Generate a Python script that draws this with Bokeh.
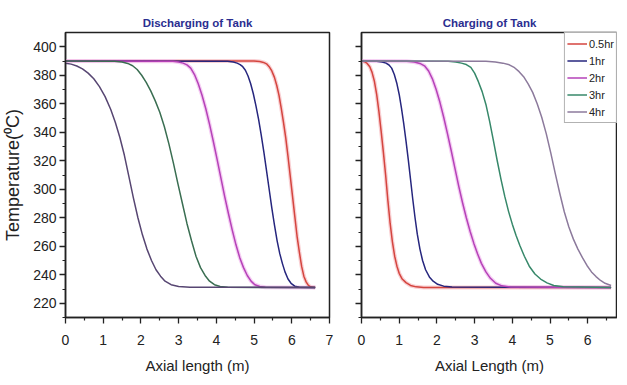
from bokeh.plotting import figure
from bokeh.layouts import row
from bokeh.models import FixedTicker, Range1d
from bokeh.embed import file_html
from bokeh.resources import INLINE

series_names = ["0.5hr", "1hr", "2hr", "3hr", "4hr"]

# Discharging of tank: axial length (m) and temperature (C)
dis_05_x = [0, 5.00, 5.15, 5.25, 5.33, 5.40, 5.47, 5.54, 5.60, 5.66, 5.72, 5.78, 5.84, 5.90, 5.96, 6.02, 6.08, 6.14, 6.20, 6.26, 6.32, 6.38, 6.44, 6.50, 6.62]
dis_05_t = [390, 390, 389.6, 389, 388, 386, 383, 378.5, 373, 366, 357, 347, 336, 323, 309, 295, 281, 267, 256, 246, 239, 235, 232.5, 231.5, 231]
dis_1_x = [0, 4.30, 4.45, 4.55, 4.63, 4.70, 4.77, 4.84, 4.91, 4.98, 5.05, 5.12, 5.19, 5.26, 5.33, 5.40, 5.47, 5.54, 5.61, 5.68, 5.75, 5.82, 5.90, 5.98, 6.08, 6.20, 6.62]
dis_1_t = [390, 389.8, 389.3, 388.5, 387.5, 386, 383.5, 379.5, 374, 367, 358.5, 349, 338, 326, 313, 300, 287, 275, 264, 255, 248, 242, 237, 234, 232, 231.3, 231]
dis_2_x = [0, 2.85, 3.00, 3.12, 3.22, 3.32, 3.42, 3.52, 3.62, 3.72, 3.82, 3.92, 4.02, 4.12, 4.22, 4.32, 4.42, 4.52, 4.62, 4.72, 4.82, 4.92, 5.02, 5.15, 5.30, 6.62]
dis_2_t = [390, 389.8, 389.3, 388.5, 387.3, 385, 380.5, 374, 366, 356.5, 345.5, 333.5, 321, 308, 295, 283, 271.5, 261, 252, 245, 239.5, 235.5, 233, 231.8, 231.3, 231]
dis_3_x = [0, 1.30, 1.50, 1.65, 1.78, 1.90, 2.02, 2.14, 2.26, 2.38, 2.50, 2.62, 2.74, 2.86, 2.98, 3.10, 3.22, 3.34, 3.46, 3.58, 3.70, 3.82, 3.95, 4.10, 4.30, 6.62]
dis_3_t = [390, 389.8, 389.3, 388.3, 386.7, 384, 380, 375, 369, 362, 354, 344, 332, 318.5, 304, 290, 276, 264, 253, 245, 239.5, 235.5, 233, 231.8, 231.2, 231]
dis_4_x = [0, 0.15, 0.30, 0.45, 0.60, 0.75, 0.90, 1.05, 1.20, 1.32, 1.44, 1.56, 1.68, 1.80, 1.92, 2.04, 2.16, 2.28, 2.40, 2.52, 2.64, 2.80, 3.00, 3.30, 6.62]
dis_4_t = [388.5, 387.8, 386.5, 384.5, 381.5, 377.5, 372, 365, 356, 347, 336.5, 324, 309, 294, 280, 268, 258, 250, 243.5, 239, 235.5, 233, 231.8, 231.3, 231]

# Charging of tank
chg_05_x = [0, 0.08, 0.15, 0.22, 0.28, 0.34, 0.40, 0.46, 0.52, 0.58, 0.64, 0.70, 0.76, 0.82, 0.88, 0.94, 1.00, 1.08, 1.18, 1.30, 1.45, 1.65, 6.62]
chg_05_t = [390, 389.5, 388.3, 386, 382, 376, 367, 355, 341, 326, 310, 292, 276, 263, 253, 246, 241, 237, 234.5, 232.5, 231.5, 231, 231]
chg_1_x = [0, 0.40, 0.55, 0.65, 0.73, 0.80, 0.87, 0.94, 1.00, 1.06, 1.12, 1.18, 1.24, 1.30, 1.36, 1.42, 1.48, 1.55, 1.62, 1.70, 1.80, 1.90, 2.02, 2.18, 2.40, 6.62]
chg_1_t = [390, 389.8, 389.3, 388.5, 387.2, 385, 380.5, 374, 366.5, 357, 346, 334, 321, 307, 293, 280, 268.5, 258, 250, 243.5, 238.5, 235.5, 233.3, 232, 231.4, 231]
chg_2_x = [0, 1.20, 1.40, 1.55, 1.67, 1.78, 1.88, 1.98, 2.08, 2.18, 2.28, 2.38, 2.48, 2.58, 2.68, 2.78, 2.88, 2.98, 3.08, 3.18, 3.30, 3.42, 3.56, 3.72, 3.95, 6.62]
chg_2_t = [390, 389.8, 389.3, 388.3, 386.6, 383, 377.5, 370, 361, 350.5, 339, 327, 314.5, 302, 290.5, 280, 270.5, 262, 254.5, 248, 242, 237.5, 234, 232.2, 231.4, 231]
chg_3_x = [0, 2.30, 2.50, 2.65, 2.78, 2.90, 3.00, 3.10, 3.20, 3.30, 3.40, 3.50, 3.60, 3.70, 3.80, 3.90, 4.00, 4.10, 4.20, 4.32, 4.45, 4.60, 4.75, 4.92, 5.10, 5.35, 6.62]
chg_3_t = [390, 389.8, 389.3, 388.5, 387.5, 385.5, 381.5, 375.5, 368.5, 359.5, 347.5, 334, 320, 307, 295, 284.5, 275.5, 267.5, 260.5, 253, 246, 240.5, 237, 234.3, 232.5, 231.5, 231]
chg_4_x = [0, 3.30, 3.55, 3.75, 3.92, 4.06, 4.18, 4.30, 4.42, 4.54, 4.66, 4.78, 4.90, 5.02, 5.14, 5.26, 5.38, 5.50, 5.62, 5.74, 5.86, 5.98, 6.10, 6.22, 6.34, 6.46, 6.62]
chg_4_t = [390, 389.8, 389.3, 388.5, 387.3, 385.3, 382.5, 379, 374, 368, 360, 350.5, 339, 325.5, 311, 297, 284, 273.5, 265, 258, 252, 246.5, 242, 238.7, 236, 234, 232.5]

x_ticks = [0, 1, 2, 3, 4, 5, 6, 7]
x_minor = [0.5, 1.5, 2.5, 3.5, 4.5, 5.5, 6.5]
y_ticks = [220, 240, 260, 280, 300, 320, 340, 360, 380, 400]
y_minor = [210, 230, 250, 270, 290, 310, 330, 350, 370, 390]

colors_left = ["#d4453f", "#26267e", "#b542b8", "#3a6e52", "#574672"]
colors_right = ["#d4453f", "#26267e", "#b542b8", "#37886a", "#8c7a9c"]
halo = ["#f7c4c8", None, "#f3c2f0", None, None]

FONT = "Liberation Sans"


def style(p, show_ylabels):
    p.outline_line_color = "#222222"
    p.outline_line_width = 1.5
    p.xgrid.visible = False
    p.ygrid.visible = False
    p.title.text_font = FONT
    p.title.text_font_style = "bold"
    p.title.text_font_size = "11.5px"
    p.title.text_color = "#2b2e90"
    p.title.align = "center"
    p.title.standoff = 7
    for ax in (p.xaxis[0], p.yaxis[0]):
        ax.axis_line_width = 1.5
        ax.axis_line_color = "#222222"
        ax.major_tick_line_color = "#222222"
        ax.minor_tick_line_color = "#222222"
        ax.major_tick_line_width = 1.3
        ax.minor_tick_line_width = 1.2
        ax.major_tick_out = 6
        ax.major_tick_in = 0
        ax.minor_tick_out = 3
        ax.minor_tick_in = 0
        ax.major_label_text_font = FONT
        ax.major_label_text_font_size = "14px"
        ax.major_label_text_color = "#222222"
        ax.axis_label_text_font = FONT
        ax.axis_label_text_font_style = "normal"
        ax.axis_label_text_color = "#222222"
    p.xaxis.axis_label_text_font_size = "15px"
    p.yaxis.axis_label_text_font_size = "18px"
    p.xaxis.ticker = FixedTicker(ticks=x_ticks, minor_ticks=x_minor)
    p.yaxis.ticker = FixedTicker(ticks=y_ticks, minor_ticks=y_minor)
    p.xaxis.major_label_standoff = 11
    p.xaxis.axis_label_standoff = 9
    p.yaxis.major_label_standoff = 3
    p.yaxis.axis_label_standoff = 7
    if not show_ylabels:
        p.yaxis.major_label_overrides = {v: "" for v in y_ticks}


p1 = figure(frame_width=264, frame_height=285, output_backend="svg", toolbar_location=None,
            title="Discharging of Tank",
            x_range=Range1d(0, 7), y_range=Range1d(210, 410),
            x_axis_label="Axial length (m)", y_axis_label="Temperature(\u2070C)",
            min_border_left=59, min_border_right=10, min_border_top=32, min_border_bottom=55)
style(p1, True)

p2 = figure(frame_width=256, frame_height=285, output_backend="svg", toolbar_location=None,
            title="Charging of Tank",
            x_range=Range1d(0, 6.79), y_range=Range1d(210, 410),
            x_axis_label="Axial Length (m)",
            min_border_left=22, min_border_right=0, min_border_top=32, min_border_bottom=55)
style(p2, False)

dis = [(dis_05_x, dis_05_t), (dis_1_x, dis_1_t), (dis_2_x, dis_2_t), (dis_3_x, dis_3_t), (dis_4_x, dis_4_t)]
chg = [(chg_05_x, chg_05_t), (chg_1_x, chg_1_t), (chg_2_x, chg_2_t), (chg_3_x, chg_3_t), (chg_4_x, chg_4_t)]

for i, (xs, ts) in enumerate(dis):
    if halo[i]:
        p1.line(xs, ts, line_color=halo[i], line_width=4, line_alpha=0.8)
for i, (xs, ts) in enumerate(dis):
    p1.line(xs, ts, line_color=colors_left[i], line_width=1.5, line_join="round")

for i, (xs, ts) in enumerate(chg):
    if halo[i]:
        p2.line(xs, ts, line_color=halo[i], line_width=4, line_alpha=0.8)
for i, (xs, ts) in enumerate(chg):
    p2.line(xs, ts, line_color=colors_right[i], line_width=1.5, line_join="round",
            legend_label=series_names[i])

lg = p2.legend[0]
lg.location = "top_right"
lg.margin = 0
lg.padding = 2
lg.spacing = 0
lg.label_text_font = FONT
lg.label_text_font_size = "11px"
lg.label_text_color = "#222222"
lg.label_height = 17
lg.glyph_height = 17
lg.glyph_width = 20
lg.label_standoff = 2
lg.border_line_color = "#666666"
lg.border_line_width = 1
lg.background_fill_alpha = 1

out = row(p1, p2)
open("out.html", "w").write(file_html(out, INLINE))
